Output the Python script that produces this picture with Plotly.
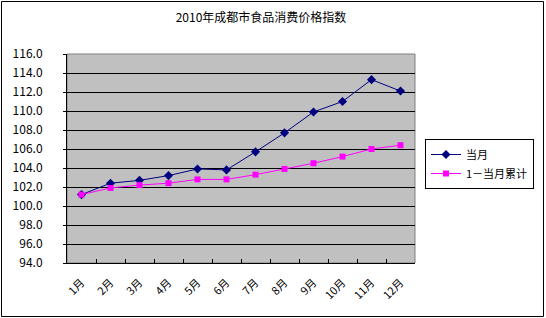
import plotly.graph_objects as go

months = ["1月", "2月", "3月", "4月", "5月", "6月", "7月", "8月", "9月", "10月", "11月", "12月"]
current = [101.2, 102.4, 102.7, 103.2, 103.9, 103.8, 105.7, 107.7, 109.9, 111.0, 113.3, 112.1]
cumulative = [101.2, 101.9, 102.2, 102.4, 102.8, 102.8, 103.3, 103.9, 104.5, 105.2, 106.0, 106.4]
y_ticks = [94.0 + 2 * i for i in range(12)]

FONT = "Noto Sans CJK SC, SimSun, sans-serif"
W, H = 546, 318
L, R, T, B = 67, 131, 54, 55
PW, PH = W - L - R, H - T - B

def px_x(p):
    return (p - L) / PW

def px_y(p):
    return (H - B - p) / PH

fig = go.Figure()
fig.add_trace(go.Scatter(
    x=months, y=current, name="当月", mode="lines+markers",
    line=dict(color="#000080", width=1),
    marker=dict(symbol="diamond", size=7, color="#000080"),
))
fig.add_trace(go.Scatter(
    x=months, y=cumulative, name="1－当月累计", mode="lines+markers",
    line=dict(color="#FF00FF", width=1),
    marker=dict(symbol="square", size=6, color="#FF00FF"),
))

fig.update_layout(
    width=W, height=H,
    margin=dict(l=L, r=R, t=T, b=B),
    paper_bgcolor="white",
    plot_bgcolor="#C0C0C0",
    font=dict(family=FONT, size=11, color="black"),
    title=dict(text="2010年成都市食品消费价格指数", x=261 / W, xanchor="center",
               y=1 - 18 / H, yanchor="middle", font=dict(size=12, family=FONT)),
    showlegend=True,
    legend=dict(x=px_x(425), y=px_y(139), xanchor="left", yanchor="top",
                bgcolor="white", bordercolor="black", borderwidth=1,
                font=dict(size=11, family=FONT), tracegroupgap=0,
                itemwidth=30),
    xaxis=dict(type="category", tickson="boundaries", ticks="inside", ticklen=4,
               tickcolor="black", showline=True, linecolor="black", linewidth=1,
               showgrid=False, tickangle=-45, tickfont=dict(size=11),
               ticklabelstandoff=8, range=[-0.5, 11.5]),
    yaxis=dict(range=[94, 116], tickvals=y_ticks,
               ticktext=[f"{v:.1f}" for v in y_ticks],
               ticks="outside", ticklen=3, tickcolor="black",
               showline=True, linecolor="black", linewidth=1,
               showgrid=True, gridcolor="black", gridwidth=1,
               zeroline=False, tickfont=dict(size=12), ticklabelstandoff=18),
)

# plot area border (gray top/right)
fig.add_shape(type="rect", xref="paper", yref="paper", x0=0, x1=1, y0=0, y1=1,
              line=dict(color="#808080", width=1), layer="below")
# outer chart border
fig.add_shape(type="rect", xref="paper", yref="paper",
              x0=px_x(1.5), x1=px_x(543.5), y0=px_y(316.5), y1=px_y(1.5),
              line=dict(color="black", width=1))

fig.write_html("out.html")
